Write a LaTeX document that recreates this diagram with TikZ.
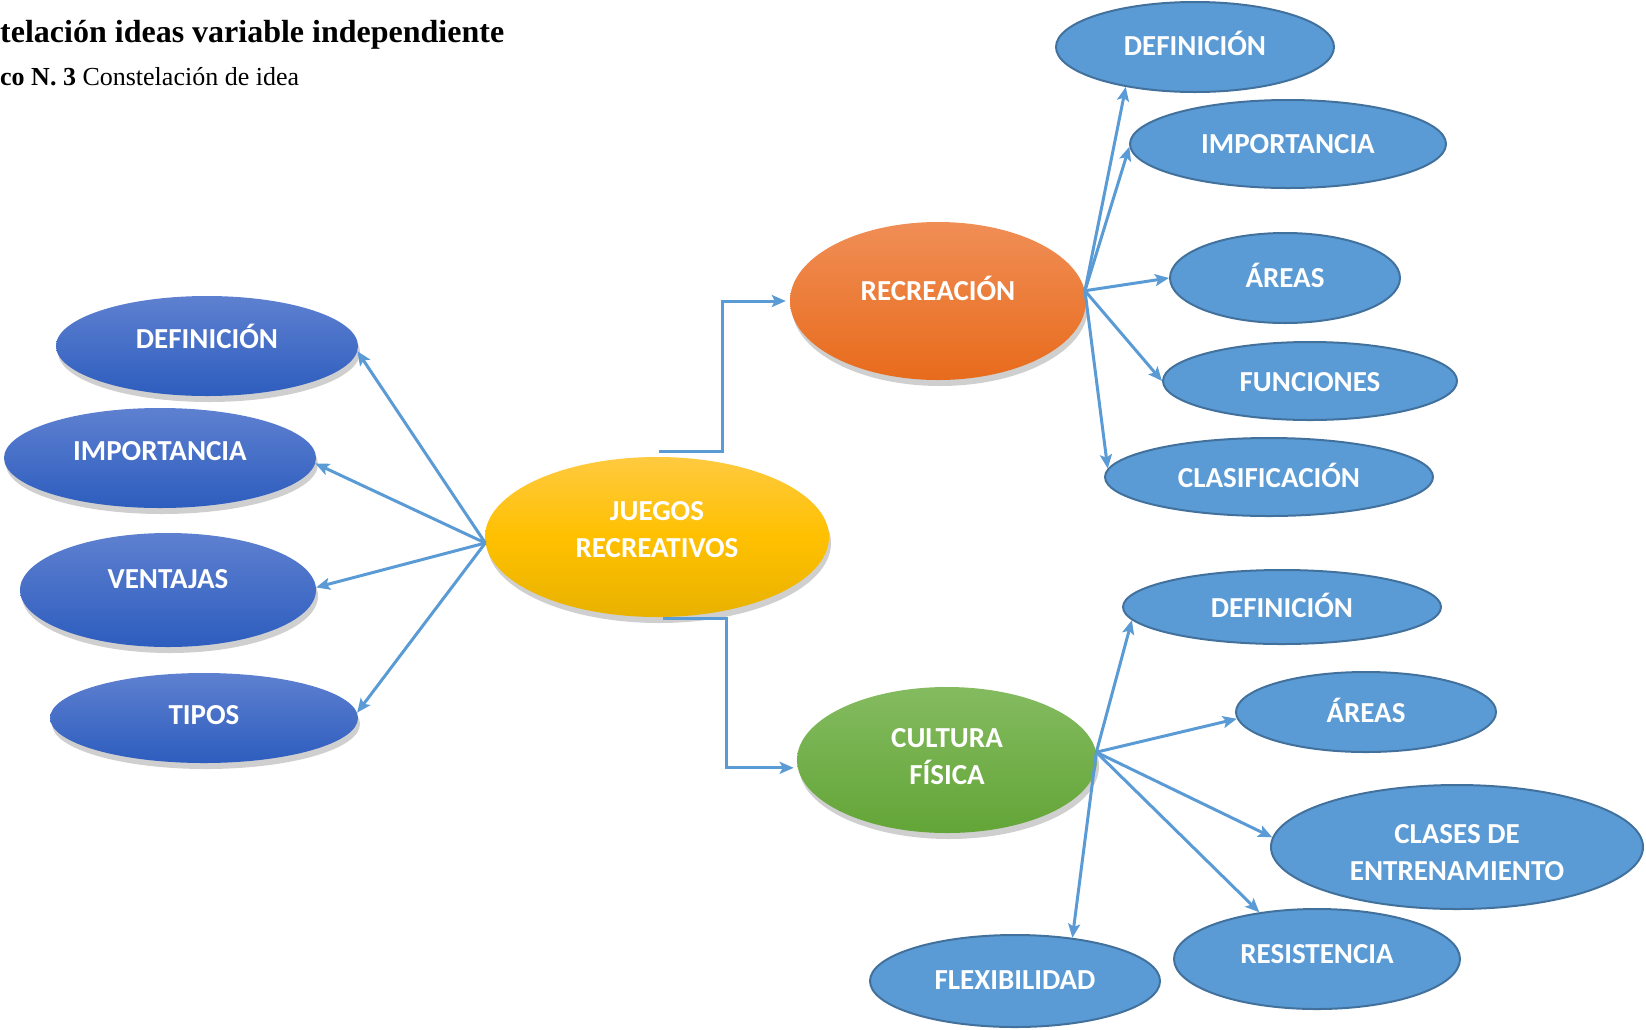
\documentclass[tikz,border=0pt]{standalone}
\usepackage{fontspec}
\setmainfont{Liberation Serif}
\newfontfamily\bubblefont{Carlito}
\usepackage{tikz}
\usetikzlibrary{arrows.meta}
\usetikzlibrary{shapes}
\usetikzlibrary{shadows}
\definecolor{linkblue}{RGB}{91,155,213}
\definecolor{flatblue}{RGB}{91,155,213}
\definecolor{flatrim}{RGB}{65,113,156}
\definecolor{deeptop}{RGB}{94,128,208}
\definecolor{deepbot}{RGB}{45,93,190}
\definecolor{suntop}{RGB}{255,202,64}
\definecolor{sunmid}{RGB}{255,192,0}
\definecolor{sunbot}{RGB}{232,178,0}
\definecolor{fruittop}{RGB}{240,142,86}
\definecolor{fruitbot}{RGB}{232,107,28}
\definecolor{leaftop}{RGB}{132,187,96}
\definecolor{leafbot}{RGB}{99,165,55}
\newcommand{\sinkby}[1]{\rule[-#1pt]{0pt}{0pt}}
\newcommand{\padby}[1]{\rule{0pt}{#1pt}}
\tikzset{
bubble/.style={
  ellipse,
  inner sep=0pt,
  align=center,
  text=white,
  font=\bubblefont\bfseries\fontsize{29}{37}\selectfont
  },
dims/.style 2 args={
  minimum width=#1pt,
  minimum height=#2pt
  },
rise/.style={
  text height=20pt,
  text depth=#1pt
  }
}
\tikzset{
lifted/.style={
  drop shadow={shadow xshift=2pt, shadow yshift=-6pt, opacity=0.38}
  },
deep/.style={bubble, lifted, top color=deeptop, bottom color=deepbot},
sun/.style={bubble, lifted, top color=suntop, bottom color=sunbot, middle color=sunmid},
fruit/.style={bubble, lifted, top color=fruittop, bottom color=fruitbot},
leaf/.style={bubble, lifted, top color=leaftop, bottom color=leafbot},
flat/.style={bubble, fill=flatblue, draw=flatrim, line width=2pt}
}
\tikzstyle{link} = [draw=linkblue, line width=3pt, -{Stealth[length=14pt,width=12pt,inset=3pt]}]
\tikzset{%
    boundingBox/.style={use as bounding box},
    }

\begin{document}
\begin{tikzpicture}[x=1pt, y=-1pt]
        \path[boundingBox] (0,0) rectangle (1646,1029);

	%heading
	\node (ttl) at (0,42) [anchor=base west, inner sep=0pt, font=\fontsize{32}{38}\selectfont\bfseries] {telación ideas variable independiente};
	\node (sub) at (0,85) [anchor=base west, inner sep=0pt, font=\fontsize{26}{31}\selectfont] {\textbf{co N. 3} Constelación de idea};

	%vertices
	\node (vroot) at (657,537) [sun, dims={344}{160}] {JUEGOS\\RECREATIVOS\sinkby{16}};
	\node (vrec) at (938,301) [fruit, dims={296}{158}, rise=22] {RECREACIÓN};
	\node (vcul) at (947,760) [leaf, dims={300}{146}] {CULTURA\\FÍSICA\sinkby{8}};

	\node (vl0) at (207,346) [deep, dims={302}{100}, rise=16] {DEFINICIÓN};
	\node (vl1) at (160,458) [deep, dims={312}{100}, rise=16] {IMPORTANCIA};
	\node (vl2) at (168,590) [deep, dims={296}{114}, rise=24] {VENTAJAS};
	\node (vl3) at (204,718) [deep, dims={308}{90}, rise=8] {TIPOS};

	\node (vr0) at (1195,47) [flat, dims={278}{90}, rise=4] {DEFINICIÓN};
	\node (vr1) at (1288,144) [flat, dims={316}{88}, rise=2] {IMPORTANCIA};
	\node (vr2) at (1285,278) [flat, dims={230}{90}, rise=2] {ÁREAS};
	\node (vr3) at (1310,381) [flat, dims={294}{78}, rise=0] {FUNCIONES};
	\node (vr4) at (1269,477) [flat, dims={328}{78}, rise=0] {CLASIFICACIÓN};

	\node (vc0) at (1282,607) [flat, dims={318}{74}, rise=0] {DEFINICIÓN};
	\node (vc1) at (1366,712) [flat, dims={260}{80}, rise=0] {ÁREAS};
	\node (vc2) at (1457,847) [flat, dims={372}{124}] {\padby{31}CLASES DE\\ENTRENAMIENTO};
	\node (vc3) at (1317,959) [flat, dims={286}{100}, rise=12] {RESISTENCIA};
	\node (vc4) at (1015,981) [flat, dims={290}{92}, rise=4] {FLEXIBILIDAD};

	\coordinate (jtop) at (659,451);
	\coordinate (jbot) at (663,618);

	%edges
	\draw (vroot.182) edge[link] (vl0.358);
	\draw (vroot.182) edge[link] (vl1.358);
	\draw (vroot.182) edge[link] (vl2.1);
	\draw (vroot.182) edge[link] (vl3.2);

	\draw[link, shorten >=4pt] (jtop) -- ++(63,0) |- (vrec.west);
	\draw[link, shorten >=4pt] (jbot) -- ++(63,0) |- (vcul.183);

	\draw (vrec.4) edge[link] (vr0.210);
	\draw (vrec.4) edge[link] (vr1.181);
	\draw (vrec.4) edge[link] (vr2.180);
	\draw (vrec.4) edge[link] (vr3.180);
	\draw (vrec.4) edge[link] (vr4.177);

	\draw (vcul.3) edge[link] (vc0.185);
	\draw (vcul.3) edge[link] (vc1.183);
	\draw (vcul.3) edge[link] (vc2.177);
	\draw (vcul.3) edge[link] (vc3.141);
	\draw (vcul.3) edge[link] (vc4.37);
\end{tikzpicture}
\end{document}
